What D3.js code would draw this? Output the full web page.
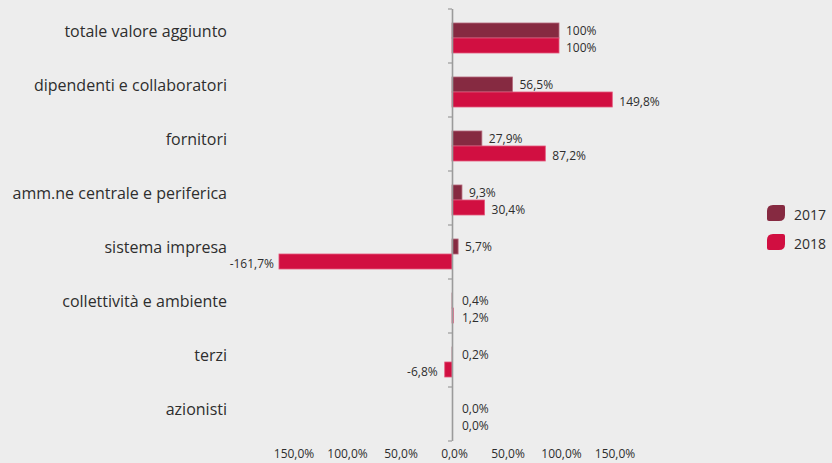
<!DOCTYPE html>
<html>
<head>
<meta charset="utf-8">
<script src="https://cdn.jsdelivr.net/npm/d3@7"></script>
<style>
  html, body { margin: 0; padding: 0; background: #ededed; }
  svg { display: block; font-family: "Open Sans", "Noto Sans", sans-serif; font-variant-ligatures: none; }
</style>
</head>
<body>
<svg id="chart" width="832" height="463"></svg>
<script>
// Valore aggiunto distribuito: quota per stakeholder, 2017 vs 2018
const categories = [
  "totale valore aggiunto",
  "dipendenti e collaboratori",
  "fornitori",
  "amm.ne centrale e periferica",
  "sistema impresa",
  "collettività e ambiente",
  "terzi",
  "azionisti"
];
const values2017 = [100, 56.5, 27.9, 9.3, 5.7, 0.4, 0.2, 0.0];
const values2018 = [100, 149.8, 87.2, 30.4, -161.7, 1.2, -6.8, 0.0];
const seriesNames = ["2017", "2018"];
const tickValues = [-150, -100, -50, 0, 50, 100, 150];

const colors = { "2017": "#862a41", "2018": "#d10f41" };
const edgeColors = { "2017": "#b3677a", "2018": "#e4587c" };
const textColor = "#2e2e2e";
const axisColor = "#9b9b9b";

const svg = d3.select("#chart");

const zeroX = 452;
const pxPerUnit = 1.07;
const x = d3.scaleLinear()
  .domain([-175, 175])
  .range([zeroX - 175 * pxPerUnit, zeroX + 175 * pxPerUnit]);

const y = d3.scaleBand().domain(categories).range([8.5, 440.5]).padding(0);
const ySeries = d3.scaleBand().domain(seriesNames).range([14.5, 44.5]).padding(0);
// value labels sit on their bar, pushed slightly apart
const labelShift = { "2017": -0.5, "2018": 2 };

const rows = categories.map((c, i) => ({
  category: c,
  values: [
    { series: "2017", value: values2017[i] },
    { series: "2018", value: values2018[i] }
  ]
}));

// Italian style: comma decimals, plain hyphen for negatives
const fmtPct = v => {
  const s = (Number.isInteger(v) && Math.abs(v) >= 100) ? String(v) : v.toFixed(1).replace(".", ",");
  return s + "%";
};

// category labels
svg.append("g")
  .selectAll("text")
  .data(categories)
  .join("text")
  .attr("x", 227)
  .attr("y", d => y(d) + 22)
  .attr("text-anchor", "end")
  .attr("dominant-baseline", "central")
  .attr("font-size", 16)
  .attr("fill", textColor)
  .text(d => d);

// bars
const groups = svg.append("g")
  .selectAll("g")
  .data(rows)
  .join("g")
  .attr("transform", d => `translate(0,${y(d.category)})`);

groups.selectAll("rect")
  .data(d => d.values.filter(v => v.value !== 0))
  .join("rect")
  .attr("x", d => x(Math.min(0, d.value)))
  .attr("y", d => ySeries(d.series))
  .attr("width", d => Math.abs(x(d.value) - x(0)))
  .attr("height", ySeries.bandwidth())
  .attr("fill", d => colors[d.series])
  .attr("stroke", d => edgeColors[d.series])
  .attr("stroke-width", 0.8);

// value labels
const gap = 7;
groups.selectAll("text")
  .data(d => d.values)
  .join("text")
  .attr("x", d => d.value < 0 ? x(d.value) - (d.value < -100 ? 5 : gap) : Math.max(x(d.value), x(0) + 3) + gap)
  .attr("y", d => ySeries(d.series) + ySeries.bandwidth() / 2 + labelShift[d.series])
  .attr("text-anchor", d => d.value < 0 ? "end" : "start")
  .attr("dominant-baseline", "central")
  .attr("font-size", 12)
  .attr("fill", textColor)
  .text(d => fmtPct(d.value));

// vertical zero axis with category separators
const yIdx = d3.scaleLinear().domain([0, categories.length]).range(y.range());
const yAxis = svg.append("g")
  .attr("transform", `translate(${x(0)},0)`)
  .call(d3.axisLeft(yIdx)
    .tickValues(d3.range(categories.length + 1))
    .tickFormat("")
    .tickSizeInner(4)
    .tickSizeOuter(0));
yAxis.select(".domain").attr("stroke", axisColor).attr("stroke-width", 1.6);
yAxis.selectAll(".tick line").attr("stroke", axisColor).attr("stroke-width", 1.2);

// bottom value axis
const xAxis = svg.append("g")
  .attr("transform", "translate(2,446)")
  .call(d3.axisBottom(x)
    .tickValues(tickValues)
    .tickSize(0)
    .tickFormat(v => Math.abs(v).toFixed(1).replace(".", ",") + "%"));
xAxis.select(".domain").remove();
xAxis.selectAll("text")
  .attr("font-family", "'Open Sans', 'Noto Sans', sans-serif")
  .attr("font-size", 12)
  .attr("fill", textColor);

// legend
const leafPath = (w, h, rBig, rSmall) =>
  `M${rBig},0 H${w - rSmall} Q${w},0 ${w},${rSmall} V${h - rBig} Q${w},${h} ${w - rBig},${h}` +
  ` H${rSmall} Q0,${h} 0,${h - rSmall} V${rBig} Q0,0 ${rBig},0 Z`;

const legend = svg.append("g").attr("transform", "translate(767,205)");
const items = legend.selectAll("g")
  .data(seriesNames)
  .join("g")
  .attr("transform", (d, i) => `translate(0,${i * 29})`);
items.append("path")
  .attr("d", leafPath(18, 16, 6, 2))
  .attr("fill", d => colors[d]);
items.append("text")
  .attr("x", 27)
  .attr("y", 9)
  .attr("dominant-baseline", "central")
  .attr("font-size", 14)
  .attr("fill", textColor)
  .text(d => d);
</script>
</body>
</html>
